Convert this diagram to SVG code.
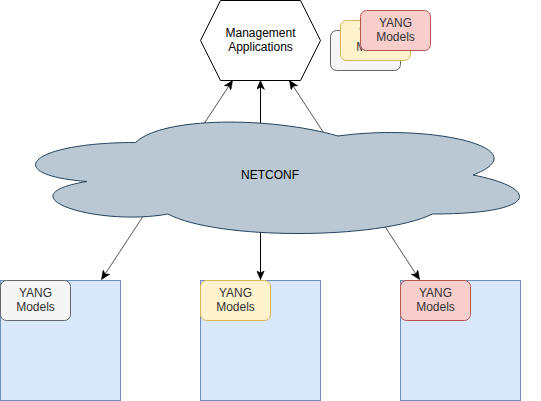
<svg xmlns="http://www.w3.org/2000/svg" width="541" height="401" viewBox="0 0 541 401">
<style>
  text { font-family: "Liberation Sans", Arial, sans-serif; font-size: 12px; text-anchor: middle; }
  .conn { stroke: #000; stroke-width: 1; fill: none; marker-start: url(#arr); marker-end: url(#arr); }
  .diag { stroke: #555555; }
  .dev { fill: #dae8fc; stroke: #6c8ebf; }
  .gray { fill: #f5f5f5; stroke: #666666; }
  .yel { fill: #fff2cc; stroke: #d6b656; }
  .red { fill: #f8cecc; stroke: #b85450; }
  .t333 { fill: #333333; }
</style>
<defs>
  <marker id="arr" viewBox="0 0 10 8" refX="9" refY="4" markerWidth="10" markerHeight="8" markerUnits="userSpaceOnUse" orient="auto-start-reverse">
    <path d="M9,4 L0,0 L2.5,4 L0,8 Z" fill="#000" stroke="#000" stroke-width="0.5"/>
  </marker>
</defs>
<rect width="541" height="401" fill="#fff"/>
<g id="connectors">
  <line class="conn diag" x1="101.5" y1="279.5" x2="232.5" y2="80.5"/>
  <line class="conn" x1="260.5" y1="80.5" x2="260.5" y2="279.5"/>
  <line class="conn diag" x1="289.5" y1="80.5" x2="419.5" y2="279.5"/>
</g>
<g id="netconf">
  <path d="M135.5,142.5 C27.5,142.5 0.5,175 86.9,181.5 C0.5,195.8 97.7,227 167.9,214 C216.5,240 378.5,240 432.5,214 C540.5,214 540.5,188 473,175 C540.5,149 432.5,123 338,136 C270.5,116.5 162.5,116.5 135.5,142.5 Z" fill="#bac8d3" stroke="#23445d"/>
  <text x="270" y="179">NETCONF</text>
</g>
<g id="mgmt">
  <path d="M220.5,0.5 L300.5,0.5 L320.5,40.5 L300.5,80.5 L220.5,80.5 L200.5,40.5 Z" fill="#fff" stroke="#000"/>
  <text x="260.5" y="37">Management</text>
  <text x="260.5" y="51">Applications</text>
</g>
<g id="yang-stack-gray">
  <rect class="gray" x="330.5" y="30.5" width="70" height="40" rx="6"/>
  <text class="t333" x="365.5" y="47">YANG</text>
  <text class="t333" x="365.5" y="61">Models</text>
</g>
<g id="yang-stack-yellow">
  <rect class="yel" x="340.5" y="20.5" width="70" height="40" rx="6"/>
  <text class="t333" x="375.5" y="37">YANG</text>
  <text class="t333" x="375.5" y="51">Models</text>
</g>
<g id="yang-stack-red">
  <rect class="red" x="360.5" y="10.5" width="70" height="40" rx="6"/>
  <text class="t333" x="395.5" y="27">YANG</text>
  <text class="t333" x="395.5" y="41">Models</text>
</g>
<g id="device1">
  <rect class="dev" x="0.5" y="280.5" width="120" height="120"/>
  <rect class="gray" x="0.5" y="280.5" width="70" height="40" rx="6"/>
  <text class="t333" x="35.5" y="297">YANG</text>
  <text class="t333" x="35.5" y="311">Models</text>
</g>
<g id="device2">
  <rect class="dev" x="200.5" y="280.5" width="120" height="120"/>
  <rect class="yel" x="200.5" y="280.5" width="70" height="40" rx="6"/>
  <text class="t333" x="235.5" y="297">YANG</text>
  <text class="t333" x="235.5" y="311">Models</text>
</g>
<g id="device3">
  <rect class="dev" x="400.5" y="280.5" width="120" height="120"/>
  <rect class="red" x="400.5" y="280.5" width="70" height="40" rx="6"/>
  <text class="t333" x="435.5" y="297">YANG</text>
  <text class="t333" x="435.5" y="311">Models</text>
</g>
</svg>
